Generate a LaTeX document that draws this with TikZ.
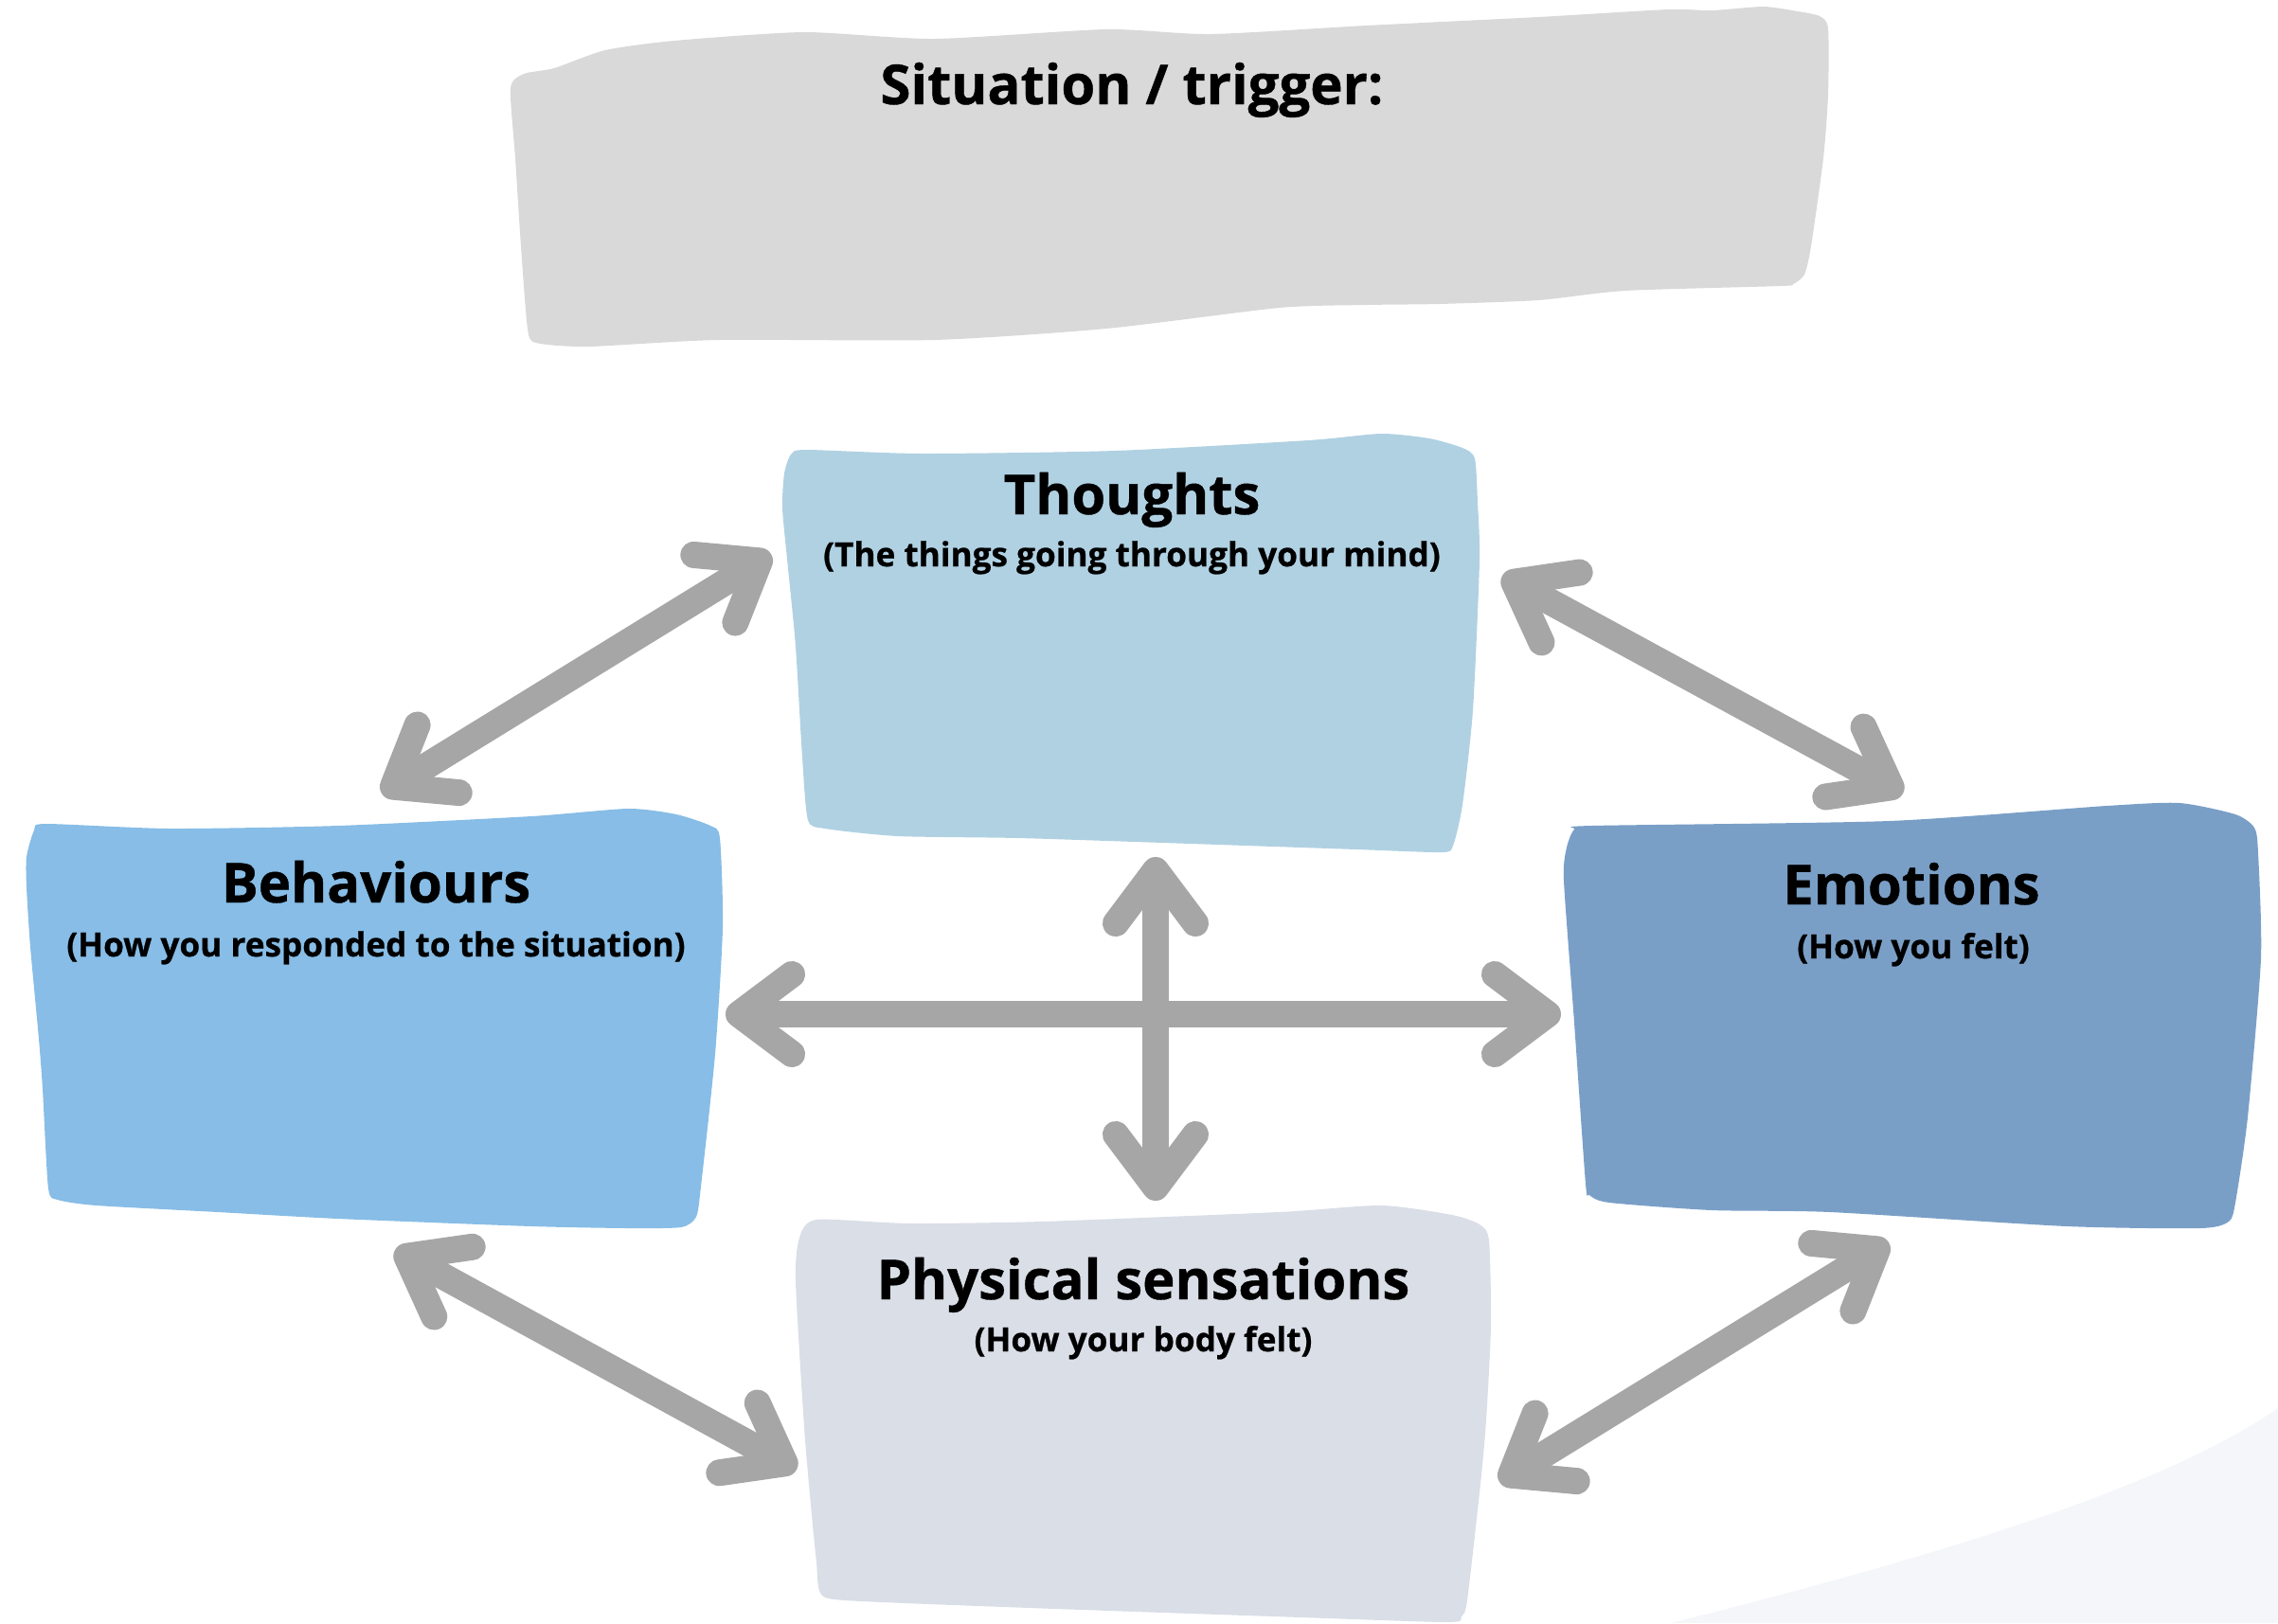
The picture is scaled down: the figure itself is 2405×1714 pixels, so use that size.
\documentclass[tikz,border=0pt]{standalone}
\usepackage{fontspec}
\setmainfont{Open Sans}[BoldFeatures={FakeBold=0.7}]
\usepackage{xcolor}
\usetikzlibrary{arrows.meta}

\definecolor{situgray}{HTML}{D9D9D9}
\definecolor{thoughtblue}{HTML}{B0D1E2}
\definecolor{behavblue}{HTML}{87BDE6}
\definecolor{emotblue}{HTML}{7A9FC7}
\definecolor{physgray}{HTML}{D9DEE7}
\definecolor{swoosh}{HTML}{F4F6FA}
\definecolor{linkgray}{HTML}{A6A6A6}

\begin{document}
\begin{tikzpicture}[x=0.01cm, y=-0.01cm,
        every node/.style={inner sep=0pt, anchor=base},
        title/.style={font=\bfseries\fontsize{16.5}{20}\selectfont},
        subtitle/.style={font=\bfseries\fontsize{10}{12}\selectfont},
        link/.style={draw=linkgray, line width=0.28cm,
            {Straight Barb[length=5.6mm, width=8.4mm, round]}-{Straight Barb[length=5.6mm, width=8.4mm, round]}}]
        \useasboundingbox (0,0) rectangle (2405,1714);

        \fill[swoosh] (1764,1714) .. controls (2100,1630) and (2300,1560) .. (2405,1487) -- (2405,1714) -- cycle;

        \fill[situgray] plot[smooth cycle, tension=0.4] coordinates {(539,93) (553,78) (585,72) (639,53)
            (712,43) (849,34) (986,41) (1168,31) (1278,36) (1442,27) (1624,18) (1761,10) (1807,11)
            (1862,7) (1898,12) (1921,17) (1930,30) (1930,100) (1925,167) (1912,260) (1905,290)
            (1893,300) (1880,302) (1716,307) (1624,317) (1519,321) (1442,322) (1351,325) (1168,347)
            (986,359) (758,359) (621,366) (566,362) (557,347) (550,260) (544,167)};
        \fill[thoughtblue] plot[smooth cycle, tension=0.4] coordinates {(826,537) (828,500) (835,480)
            (851,475) (973,479) (1177,476) (1381,465) (1458,458) (1509,463) (1544,473) (1557,484)
            (1560,530) (1562,593) (1555,750) (1544,850) (1534,893) (1522,900) (1432,897) (1228,890)
            (1075,885) (948,883) (871,875) (853,866) (847,800) (840,683) (832,600)};
        \fill[behavblue] plot[smooth cycle, tension=0.4] coordinates {(28,937) (28,905) (36,877)
            (48,870) (179,875) (357,872) (561,862) (663,854) (714,860) (750,872) (760,885) (763,980)
            (755,1113) (740,1253) (735,1285) (719,1296) (663,1297) (561,1295) (357,1287) (230,1280)
            (102,1273) (61,1267) (51,1255) (45,1150) (41,1097) (32,1000)};
        \fill[emotblue] plot[smooth cycle, tension=0.4] coordinates {(1651,930) (1654,895) (1662,876)
            (1680,872) (1994,867) (2224,851) (2301,848) (2360,860) (2380,874) (2384,900) (2387,1012)
            (2373,1180) (2360,1270) (2353,1290) (2323,1297) (2182,1295) (1932,1280) (1807,1278)
            (1699,1270) (1678,1262) (1674,1250) (1662,1080)};
        \fill[physgray] plot[smooth cycle, tension=0.4] coordinates {(840,1353) (844,1307) (862,1288)
            (960,1292) (1100,1290) (1350,1280) (1458,1273) (1533,1283) (1562,1293) (1572,1310)
            (1574,1400) (1569,1500) (1563,1567) (1549,1690) (1543,1707) (1529,1713) (1374,1708)
            (1087,1698) (892,1690) (866,1682) (862,1650) (857,1600) (849,1507)};

        \node[title] (situ) at (1195,110) {Situation / trigger:};

        \node[title] (thoughts) at (1195,543) {Thoughts};
        \node[subtitle] (thoughtsub) at (1195,598) {(The things going through your mind)};

        \node[title] (behav) at (397,953) {Behaviours};
        \node[subtitle] (behavsub) at (397,1010) {(How you responded to the situation)};

        \node[title] (emot) at (2018,955) {Emotions};
        \node[subtitle] (emotsub) at (2020,1012) {(How you felt)};

        \node[title] (phys) at (1207,1372) {Physical sensations};
        \node[subtitle] (physsub) at (1207,1427) {(How your body felt)};

        \coordinate (tb1) at (814,585);
        \coordinate (tb2) at (403,838);
        \coordinate (te1) at (1586,608);
        \coordinate (te2) at (2009,838);
        \coordinate (mid1) at (766,1071);
        \coordinate (mid2) at (1648,1071);
        \coordinate (mid3) at (1220,905);
        \coordinate (mid4) at (1220,1268);
        \coordinate (bp1) at (417,1320);
        \coordinate (bp2) at (841,1552);
        \coordinate (ep1) at (1994,1312);
        \coordinate (ep2) at (1583,1565);

        \draw[link] (tb1) -- (tb2);
        \draw[link] (te1) -- (te2);
        \draw[link] (mid1) -- (mid2);
        \draw[link] (mid3) -- (mid4);
        \draw[link] (bp1) -- (bp2);
        \draw[link] (ep1) -- (ep2);
    \end{tikzpicture}
\end{document}
